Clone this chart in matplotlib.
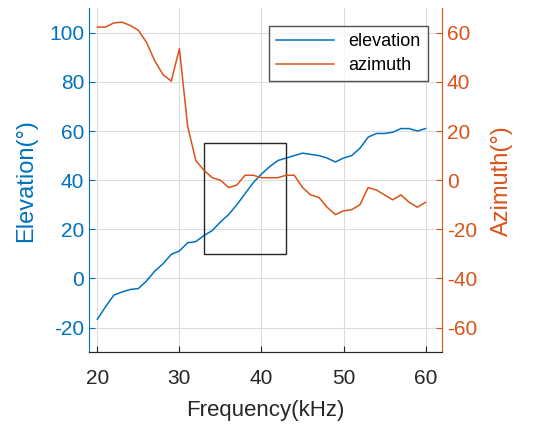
import matplotlib.pyplot as plt
from matplotlib.patches import Rectangle

plt.rcParams['font.family'] = ['Liberation Sans', 'DejaVu Sans']
plt.rcParams['axes.unicode_minus'] = False

freq = list(range(20, 61))
elevation = [-16.6, -11.5, -6.8, -5.5, -4.5, -4.1, -1, 3, 6, 9.8,
             11.2, 14.5, 15, 17.5, 19.5, 23, 26, 30, 34.5, 39,
             42.5, 45.5, 48, 49, 50, 51, 50.5, 50, 49, 47.4,
             49, 50, 53, 57.5, 59, 59, 59.5, 61, 61, 60, 61]
azimuth = [62.3, 62.3, 64, 64.3, 63, 61, 56, 48.5, 43, 40.3,
           53.5, 22, 8, 4, 1, 0, -3, -2, 2, 2,
           1, 1, 1, 2, 2, -3, -6, -7, -11, -14,
           -12.5, -12, -10, -3, -4, -6, -8, -6, -9, -11, -9]

box_freq = (33, 43)
box_elev = (10, 55)

BLUE = '#0072BD'
ORANGE = '#D95319'
DARK = '#262626'

fig = plt.figure(figsize=(5.47, 4.30), dpi=100)
ax = fig.add_axes([0.163, 0.181, 0.645, 0.800])
ax2 = ax.twinx()

l1, = ax.plot(freq, elevation, color=BLUE, lw=1.1, label='elevation')
l2, = ax2.plot(freq, azimuth, color=ORANGE, lw=1.1, label='azimuth')

ax.add_patch(Rectangle((box_freq[0], box_elev[0]), box_freq[1] - box_freq[0],
                       box_elev[1] - box_elev[0], fill=False,
                       edgecolor=DARK, lw=1.0, zorder=5))

ax.set_xlim(19, 62)
ax.set_ylim(-30, 110)
ax2.set_ylim(-70, 70)
ax.set_xticks([20, 30, 40, 50, 60])
ax.set_yticks([-20, 0, 20, 40, 60, 80, 100])
ax2.set_yticks([-60, -40, -20, 0, 20, 40, 60])

ax.grid(True, color='#dcdcdc', lw=0.8)
ax.set_axisbelow(True)

ax.set_xlabel('Frequency(kHz)', fontsize=16, color=DARK, labelpad=9)
ax.set_ylabel('Elevation(°)', fontsize=17, color=BLUE, labelpad=9)
ax2.set_ylabel('Azimuth(°)', fontsize=17, color=ORANGE, labelpad=10)

ax.tick_params(axis='x', direction='in', colors=DARK, labelsize=15, length=4, pad=12)
ax.tick_params(axis='y', direction='in', colors=BLUE, labelsize=15, length=4)
ax2.tick_params(axis='y', direction='in', colors=ORANGE, labelsize=15, length=4)

ax.spines['left'].set_color(BLUE)
ax2.spines['left'].set_visible(False)
ax2.spines['right'].set_color(ORANGE)
ax.spines['right'].set_visible(False)
for a in (ax, ax2):
    a.spines['top'].set_visible(False)
    a.spines['bottom'].set_color(DARK)

leg = ax2.legend(handles=[l1, l2], loc='upper right', fontsize=13,
                 frameon=True, fancybox=False, edgecolor=DARK,
                 bbox_to_anchor=(0.985, 0.975), handlelength=3.2,
                 borderpad=0.4, labelspacing=0.4)
leg.get_frame().set_linewidth(1.0)

fig.savefig('out.png', dpi=100)
